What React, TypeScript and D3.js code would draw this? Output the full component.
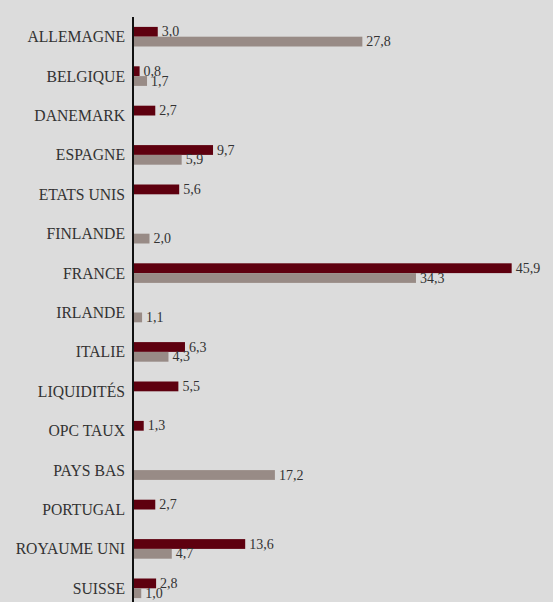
import React from 'react';
import * as d3 from 'd3';

const categories = [
  'ALLEMAGNE', 'BELGIQUE', 'DANEMARK', 'ESPAGNE', 'ETATS UNIS', 'FINLANDE', 'FRANCE',
  'IRLANDE', 'ITALIE', 'LIQUIDITÉS', 'OPC TAUX', 'PAYS BAS', 'PORTUGAL', 'ROYAUME UNI', 'SUISSE',
];
// dark red series
const seriesA: (number | null)[] = [3.0, 0.8, 2.7, 9.7, 5.6, null, 45.9, null, 6.3, 5.5, 1.3, null, 2.7, 13.6, 2.8];
// grey series
const seriesB: (number | null)[] = [27.8, 1.7, null, 5.9, null, 2.0, 34.3, 1.1, 4.3, null, null, 17.2, null, 4.7, 1.0];

const W = 553;
const H = 602;
const fmt = (v: number) => v.toFixed(1).replace('.', ',');

const App: React.FC = () => {
  const y = d3.scaleBand<string>().domain(categories).range([17, 17 + 39.4 * categories.length]);
  const x = d3.scaleLinear().domain([0, 50]).range([133, 545.5]);
  const inner = d3.scaleBand<string>().domain(['a', 'b']).range([0, 19.6]);
  const offset = (y.bandwidth() - 19.6) / 2;

  const series = [
    { key: 'a', values: seriesA, color: '#5e000f' },
    { key: 'b', values: seriesB, color: '#988b86' },
  ];

  return (
    <svg width={W} height={H} style={{ position: 'absolute', left: 0, top: 0, display: 'block' }}
      fontFamily="'Liberation Serif', 'Times New Roman', serif">
      <rect width={W} height={H} fill="#dcdcdc" />
      {categories.map((c) => (
        <text key={c} x={125} y={(y(c) ?? 0) + y.bandwidth() / 2} textAnchor="end"
          dominantBaseline="central" fontSize={15.7} fill="#333">{c}</text>
      ))}
      {series.map((s) =>
        s.values.map((v, i) => {
          if (v == null) return null;
          const c = categories[i];
          const top = (y(c) ?? 0) + offset + (inner(s.key) ?? 0);
          return (
            <g key={s.key + c}>
              <rect x={x(0)} y={top} width={x(v) - x(0)} height={inner.bandwidth()} fill={s.color} />
              <text x={x(v) + 4} y={top + inner.bandwidth() / 2} dominantBaseline="central"
                fontSize={14} fill="#333">{fmt(v)}</text>
            </g>
          );
        })
      )}
      <line x1={x(0)} x2={x(0)} y1={y.range()[0]} y2={y.range()[1]} stroke="#111" strokeWidth={2} />
    </svg>
  );
};

export default App;
